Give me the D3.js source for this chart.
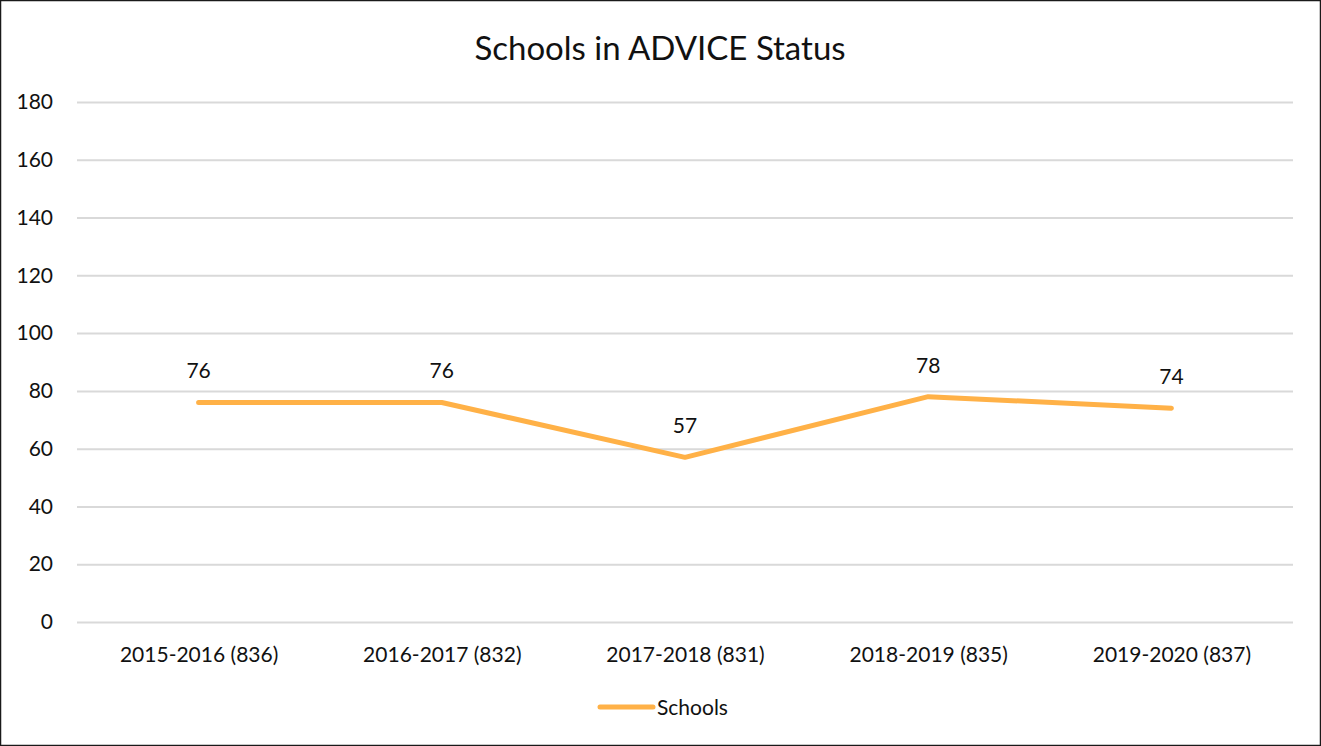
<!DOCTYPE html>
<html>
<head>
<meta charset="utf-8">
<script src="https://cdn.jsdelivr.net/npm/d3@7"></script>
<style>
  body { margin: 0; background: #fff; }
  svg { display: block; font-family: Lato, "Open Sans", sans-serif; }
</style>
</head>
<body>
<svg id="chart"></svg>
<script>
// chart data
var categories = ["2015-2016 (836)", "2016-2017 (832)", "2017-2018 (831)", "2018-2019 (835)", "2019-2020 (837)"];
var schools = [76, 76, 57, 78, 74];
var yTicks = [0, 20, 40, 60, 80, 100, 120, 140, 160, 180];
var seriesName = "Schools";
var title = "Schools in ADVICE Status";

var W = 1321, H = 746;
var margin = {top: 102, right: 28, bottom: 124, left: 77};
var lineColor = "#ffb147";
var fs = "21px";

var svg = d3.select("#chart")
    .attr("width", W)
    .attr("height", H);

// outer frame
svg.append("rect")
    .attr("x", 0.5).attr("y", 0.5)
    .attr("width", W - 1).attr("height", H - 1)
    .attr("fill", "#fff")
    .attr("stroke", "#1a1a1a")
    .attr("stroke-width", 1.5);

var x = d3.scalePoint()
    .domain(categories)
    .range([margin.left, W - margin.right])
    .padding(0.5);

var y = d3.scaleLinear()
    .domain([0, 180])
    .range([H - margin.bottom, margin.top]);

// title
svg.append("text")
    .attr("x", 660)
    .attr("y", 60)
    .attr("text-anchor", "middle")
    .attr("font-size", "33px")
    .attr("fill", "#111")
    .text(title);

/// gridlines + y labels
var yAxis = d3.axisLeft(y)
    .tickValues(yTicks)
    .tickSize(-(W - margin.right - margin.left))
    .tickPadding(24);

var gy = svg.append("g")
    .attr("transform", "translate(" + margin.left + ",0)")
    .call(yAxis);
gy.select(".domain").remove();
gy.selectAll(".tick line")
    .attr("stroke", "#d9d9d9")
    .attr("stroke-width", 2);
gy.selectAll(".tick text")
    .attr("font-size", fs)
    .attr("fill", "#111")
    .attr("font-family", "Lato, 'Open Sans', sans-serif");

/// x labels
var xAxis = d3.axisBottom(x).tickSize(0).tickPadding(25);
var gx = svg.append("g")
    .attr("transform", "translate(0," + (H - margin.bottom) + ")")
    .call(xAxis);
gx.select(".domain").remove();
gx.selectAll(".tick text")
    .attr("font-size", fs)
    .attr("fill", "#111")
    .attr("font-family", "Lato, 'Open Sans', sans-serif");

/// the line
var line = d3.line()
    .x((d, i) => x(categories[i]))
    .y(d => y(d));

svg.append("path")
    .datum(schools)
    .attr("d", line)
    .attr("fill", "none")
    .attr("stroke", lineColor)
    .attr("stroke-width", 5)
    .attr("stroke-linecap", "round")
    .attr("stroke-linejoin", "round");

/// data labels
svg.selectAll(".dlabel")
    .data(schools)
    .enter()
    .append("text")
    .attr("class", "dlabel")
    .attr("x", (d, i) => x(categories[i]))
    .attr("y", d => y(d) - 24)
    .attr("text-anchor", "middle")
    .attr("font-size", fs)
    .attr("fill", "#111")
    .text(d => d);

/// legend
var lg = svg.append("g").attr("transform", "translate(600,707)");
lg.append("line")
    .attr("x1", 0).attr("x2", 53)
    .attr("y1", 0).attr("y2", 0)
    .attr("stroke", lineColor)
    .attr("stroke-width", 5)
    .attr("stroke-linecap", "round");
lg.append("text")
    .attr("x", 57)
    .attr("y", 8)
    .attr("font-size", fs)
    .attr("fill", "#111")
    .text(seriesName);
</script>
</body>
</html>
